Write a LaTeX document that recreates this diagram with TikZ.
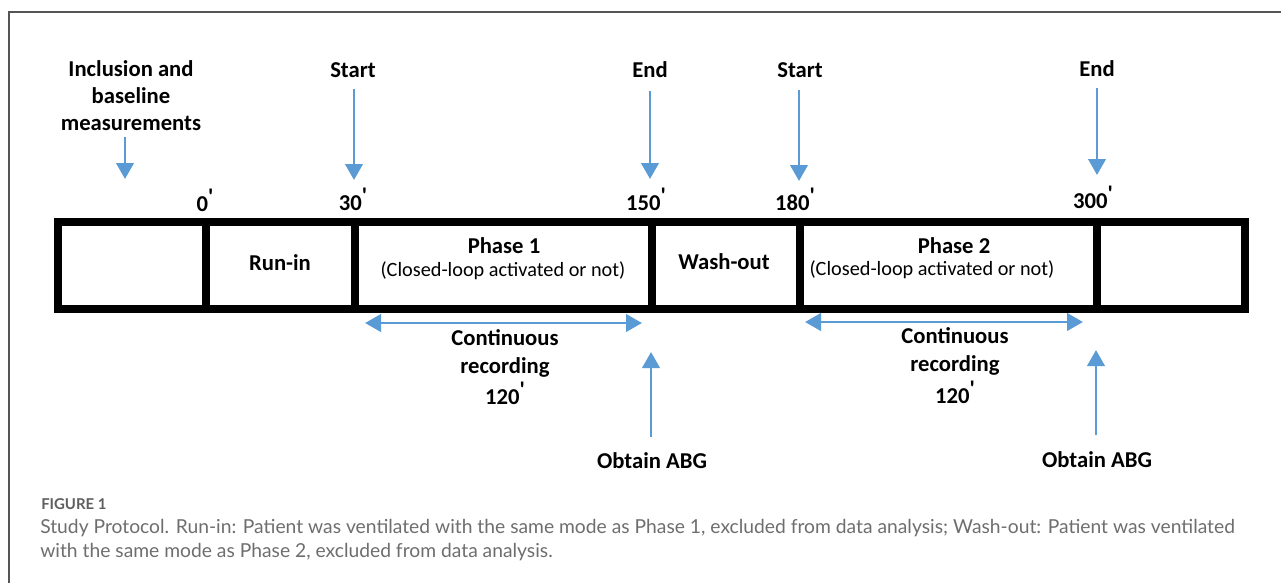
\documentclass[tikz,border=0pt]{standalone}
\usepackage{fontspec}
\setmainfont{Carlito}
\newfontfamily\capfont{Lato}
\usetikzlibrary{arrows.meta}
\definecolor{arrowblue}{HTML}{5B9BD5}
\definecolor{capgray}{HTML}{6E6E6E}
\definecolor{figgray}{HTML}{5E5E5E}
\definecolor{framegray}{HTML}{555555}
\newcommand{\myprime}{\raisebox{0.28em}{\textquotesingle}}
\tikzset{
  lbl/.style={font=\fontsize{17}{20}\selectfont\bfseries, inner sep=0pt, anchor=base},
  sublbl/.style={font=\fontsize{15.2}{18}\selectfont, inner sep=0pt, anchor=base},
  bluearrow/.style={draw=arrowblue, line width=2.2pt, -{Triangle[length=12pt,width=13pt]}},
  bluedouble/.style={draw=arrowblue, line width=2.2pt, {Triangle[length=12pt,width=13pt]}-{Triangle[length=12pt,width=13pt]}},
  barline/.style={draw=black, line width=6pt},
  captxt/.style={font=\capfont\fontsize{14.45}{18}\selectfont, text=capgray, inner sep=0pt, anchor=base west},
  figlbl/.style={font=\capfont\fontsize{11.2}{12}\selectfont\bfseries, text=figgray, inner sep=0pt, anchor=base west}
}
\begin{document}
\begin{tikzpicture}[x=0.75pt,y=-0.75pt]
\useasboundingbox (0,0) rectangle (1281,583);
\fill[white] (0,0) rectangle (1281,583);
% outer frame
\draw[framegray, line width=1pt] (9,583) -- (9,12) -- (1281,12);

% bar
\coordinate (b0) at (58,222);
\coordinate (b1) at (1245,309);
\draw[barline] (b0) rectangle (b1);
\foreach \x/\n in {206/d0, 354.5/d30, 651.5/d150, 800/d180, 1097/d300}{
  \coordinate (\n top) at (\x,222);
  \coordinate (\n bot) at (\x,309);
  \draw[barline] (\n top) -- (\n bot);
}

% top labels
\node[lbl] (inc1) at (131,76) {Inclusion and};
\node[lbl] (inc2) at (131,103) {baseline};
\node[lbl] (inc3) at (131,130) {measurements};
\node[lbl] (start1) at (353,77) {Start};
\node[lbl] (end1) at (650,77) {End};
\node[lbl] (start2) at (800,77) {Start};
\node[lbl] (end2) at (1097,76) {End};

% arrows down
\coordinate (a0s) at (125,137);
\coordinate (a0e) at (125,179);
\draw[bluearrow] (a0s) -- (a0e);
\coordinate (a1s) at (354,89);
\coordinate (a1e) at (354,180);
\draw[bluearrow] (a1s) -- (a1e);
\coordinate (a2s) at (650,91);
\coordinate (a2e) at (650,179);
\draw[bluearrow] (a2s) -- (a2e);
\coordinate (a3s) at (799,90);
\coordinate (a3e) at (799,181);
\draw[bluearrow] (a3s) -- (a3e);
\coordinate (a4s) at (1097,88);
\coordinate (a4e) at (1097,175);
\draw[bluearrow] (a4s) -- (a4e);

% time labels
\node[lbl] (t0) at (205,211) {0\myprime};
\node[lbl] (t30) at (353,210) {30\myprime};
\node[lbl] (t150) at (646,210) {150\myprime};
\node[lbl] (t180) at (795,210) {180\myprime};
\node[lbl] (t300) at (1093,208) {300\myprime};

% cell texts
\node[lbl] (runin) at (280,270) {Run-in};
\node[lbl] (ph1) at (504,253) {Phase 1};
\node[sublbl] (ph1s) at (503,276) {(Closed-loop activated or not)};
\node[lbl] (wash) at (724,269) {Wash-out};
\node[lbl] (ph2) at (954,253) {Phase 2};
\node[sublbl] (ph2s) at (932,275) {(Closed-loop activated or not)};

% continuous recording
\coordinate (c1l) at (365,323);
\coordinate (c1r) at (642,323);
\draw[bluedouble] (c1l) -- (c1r);
\node[lbl] (cr1a) at (505,345) {Continuous};
\node[lbl] (cr1b) at (505,373) {recording};
\node[lbl] (cr1c) at (505,404) {120\myprime};

\coordinate (c2l) at (805,322);
\coordinate (c2r) at (1083,322);
\draw[bluedouble] (c2l) -- (c2r);
\node[lbl] (cr2a) at (955,343) {Continuous};
\node[lbl] (cr2b) at (955,371) {recording};
\node[lbl] (cr2c) at (955,403) {120\myprime};

% obtain ABG
\node[lbl] (abg1) at (652,468) {Obtain ABG};
\coordinate (u1s) at (651,437);
\coordinate (u1e) at (651,352);
\draw[bluearrow] (u1s) -- (u1e);
\node[lbl] (abg2) at (1097,467) {Obtain ABG};
\coordinate (u2s) at (1096,435);
\coordinate (u2e) at (1096,350);
\draw[bluearrow] (u2s) -- (u2e);

% caption
\node[figlbl] (fig) at (41,509) {FIGURE 1};
\node[captxt] (cap1) at (40,533) {Study Protocol. Run-in: Patient was ventilated with the same mode as Phase 1, excluded from data analysis; Wash-out: Patient was ventilated};
\node[captxt] (cap2) at (40,557) {with the same mode as Phase 2, excluded from data analysis.};
\end{tikzpicture}
\end{document}
